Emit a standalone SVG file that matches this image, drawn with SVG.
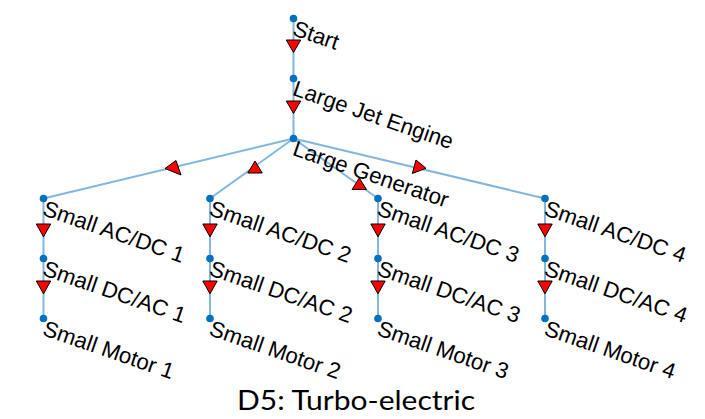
<svg xmlns="http://www.w3.org/2000/svg" width="705" height="419" viewBox="0 0 705 419">
<style>
.e{stroke:#80B6DF;stroke-width:2;fill:none}
.a{fill:#FF0000;stroke:#000;stroke-width:1;stroke-linejoin:miter}
.n{fill:#0072BD}
.l{font-family:"Liberation Sans",Arial,sans-serif;font-size:22.2px;fill:#000}
.t{font-family:Lato,"Liberation Sans",sans-serif;font-size:27px;fill:#000}
</style>
<rect width="705" height="419" fill="#fff"/>
<g id="connectors">
<line class="e" x1="293.5" y1="18.5" x2="293.5" y2="78.5"/>
<line class="e" x1="293.5" y1="78.5" x2="293.5" y2="138.5"/>
<line class="e" x1="293.5" y1="138.5" x2="43.5" y2="198.5"/>
<line class="e" x1="293.5" y1="138.5" x2="210" y2="198.5"/>
<line class="e" x1="293.5" y1="138.5" x2="378" y2="198.5"/>
<line class="e" x1="293.5" y1="138.5" x2="545" y2="198.5"/>
<line class="e" x1="43.5" y1="198.5" x2="43.5" y2="318.5"/>
<line class="e" x1="210" y1="198.5" x2="210" y2="318.5"/>
<line class="e" x1="378" y1="198.5" x2="378" y2="318.5"/>
<line class="e" x1="545" y1="198.5" x2="545" y2="318.5"/>
<polygon class="a" points="286.3,40 300.7,40 293.5,52.5"/>
<polygon class="a" points="286.3,101 300.7,101 293.5,113.5"/>
<polygon class="a" points="165,168.5 176,160.5 181,175"/>
<polygon class="a" points="255,161 247.8,173 262.2,173"/>
<polygon class="a" points="359.3,178 352.1,189.5 366.5,189.5"/>
<polygon class="a" points="426,168.3 416,160 412.3,173.5"/>
<polygon class="a" points="36.3,224 50.7,224 43.5,236.8"/>
<polygon class="a" points="36.3,281 50.7,281 43.5,293.8"/>
<polygon class="a" points="202.8,224 217.2,224 210,236.8"/>
<polygon class="a" points="202.8,281 217.2,281 210,293.8"/>
<polygon class="a" points="370.8,224 385.2,224 378,236.8"/>
<polygon class="a" points="370.8,281 385.2,281 378,293.8"/>
<polygon class="a" points="537.8,224 552.2,224 545,236.8"/>
<polygon class="a" points="537.8,281 552.2,281 545,293.8"/>
</g>
<g id="start"><circle class="n" cx="293.5" cy="18.5" r="3.8"/><text class="l" transform="translate(293.5,18.5) rotate(19)" x="3.5" y="16">Start</text></g>
<g id="large-jet-engine"><circle class="n" cx="293.5" cy="78.5" r="3.8"/><text class="l" transform="translate(293.5,78.5) rotate(19)" x="3.5" y="16">Large Jet Engine</text></g>
<g id="large-generator"><circle class="n" cx="293.5" cy="138.5" r="3.8"/><text class="l" transform="translate(293.5,138.5) rotate(19)" x="3.5" y="16">Large Generator</text></g>
<g id="acdc1"><circle class="n" cx="43.5" cy="198.5" r="3.8"/><text class="l" transform="translate(43.5,198.5) rotate(19)" x="3.5" y="16">Small AC/DC 1</text></g>
<g id="dcac1"><circle class="n" cx="43.5" cy="258.5" r="3.8"/><text class="l" transform="translate(43.5,258.5) rotate(19)" x="3.5" y="16">Small DC/AC 1</text></g>
<g id="motor1"><circle class="n" cx="43.5" cy="318.5" r="3.8"/><text class="l" transform="translate(43.5,318.5) rotate(19)" x="3.5" y="16">Small Motor 1</text></g>
<g id="acdc2"><circle class="n" cx="210" cy="198.5" r="3.8"/><text class="l" transform="translate(210,198.5) rotate(19)" x="3.5" y="16">Small AC/DC 2</text></g>
<g id="dcac2"><circle class="n" cx="210" cy="258.5" r="3.8"/><text class="l" transform="translate(210,258.5) rotate(19)" x="3.5" y="16">Small DC/AC 2</text></g>
<g id="motor2"><circle class="n" cx="210" cy="318.5" r="3.8"/><text class="l" transform="translate(210,318.5) rotate(19)" x="3.5" y="16">Small Motor 2</text></g>
<g id="acdc3"><circle class="n" cx="378" cy="198.5" r="3.8"/><text class="l" transform="translate(378,198.5) rotate(19)" x="3.5" y="16">Small AC/DC 3</text></g>
<g id="dcac3"><circle class="n" cx="378" cy="258.5" r="3.8"/><text class="l" transform="translate(378,258.5) rotate(19)" x="3.5" y="16">Small DC/AC 3</text></g>
<g id="motor3"><circle class="n" cx="378" cy="318.5" r="3.8"/><text class="l" transform="translate(378,318.5) rotate(19)" x="3.5" y="16">Small Motor 3</text></g>
<g id="acdc4"><circle class="n" cx="545" cy="198.5" r="3.8"/><text class="l" transform="translate(545,198.5) rotate(19)" x="3.5" y="16">Small AC/DC 4</text></g>
<g id="dcac4"><circle class="n" cx="545" cy="258.5" r="3.8"/><text class="l" transform="translate(545,258.5) rotate(19)" x="3.5" y="16">Small DC/AC 4</text></g>
<g id="motor4"><circle class="n" cx="545" cy="318.5" r="3.8"/><text class="l" transform="translate(545,318.5) rotate(19)" x="3.5" y="16">Small Motor 4</text></g>
<text class="t" x="237" y="410" textLength="238" lengthAdjust="spacingAndGlyphs">D5: Turbo-electric</text>
</svg>
